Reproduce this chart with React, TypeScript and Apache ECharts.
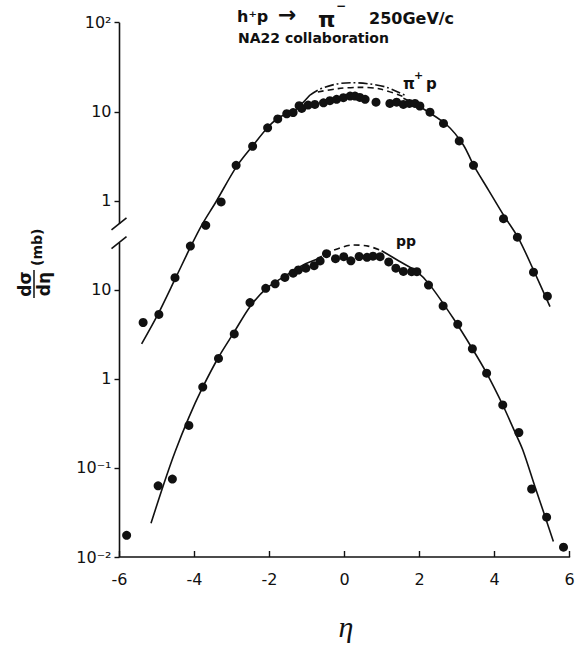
import React, { useEffect, useRef } from "react";
import * as echarts from "echarts";

// ---- axis ticks ----
const yTickValues = [-2, -1, 0, 1, 2, 3, 4];
const yTickLabels = ["10⁻²", "10⁻¹", "1", "10", "1", "10", "10²"];
// the pi+p panel is drawn two decades above the pp panel (broken y axis)
const UPPER_SHIFT = 2;
const BREAK_LOW = 1.53;
const BREAK_HIGH = 1.74;

// ---- pi+ p -> pi- data (mb) ----
const pipEta = [-5.37, -4.95, -4.52, -4.11, -3.7, -3.29, -2.89, -2.45, -2.05, -1.78, -1.54, -1.37, -1.21, -1.14, -0.97, -0.79, -0.56, -0.39, -0.21, -0.03, 0.15, 0.28, 0.41, 0.55, 0.84, 1.21, 1.39, 1.57, 1.73, 1.88, 2.01, 2.28, 2.64, 3.06, 3.44, 4.24, 4.61, 5.04, 5.41];
const pipVal = [0.043, 0.053, 0.137, 0.31, 0.53, 0.97, 2.5, 4.1, 6.6, 8.3, 9.5, 9.8, 11.7, 10.9, 11.9, 12.1, 12.6, 13.3, 13.8, 14.4, 15.0, 15.0, 14.5, 13.8, 12.8, 12.4, 12.8, 12.1, 12.4, 12.4, 11.6, 9.9, 7.4, 4.7, 2.5, 0.63, 0.39, 0.158, 0.085];

const pipFitLeftEta = [-5.41, -4.98, -4.5, -4.09, -3.81, -3.43, -2.88, -2.43, -2.03, -1.72, -1.37, -0.92];
const pipFitLeftVal = [0.0247, 0.0526, 0.137, 0.313, 0.531, 0.97, 2.42, 4.24, 6.79, 8.79, 10.0, 15.4];
const pipDashDotEta = [-0.92, -0.65, -0.21, 0.24, 0.68, 1.13, 1.66];
const pipDashDotVal = [15.4, 18.0, 20.5, 21.2, 20.5, 18.8, 15.0];
const pipDashEta = [-0.71, -0.17, 0.37, 0.95, 1.57];
const pipDashVal = [16.7, 18.2, 18.8, 18.0, 14.8];
const pipFitRightEta = [1.57, 2.01, 2.73, 3.17, 3.44, 3.84, 4.24, 4.64, 5.04, 5.48];
const pipFitRightVal = [14.2, 11.4, 7.1, 4.24, 2.52, 1.32, 0.693, 0.379, 0.167, 0.0647];

// ---- p p -> pi- data (mb) ----
const ppEta = [-5.81, -4.97, -4.59, -4.15, -3.78, -3.36, -2.94, -2.52, -2.1, -1.85, -1.59, -1.37, -1.23, -1.03, -0.81, -0.65, -0.48, -0.24, -0.02, 0.17, 0.39, 0.6, 0.76, 0.95, 1.18, 1.37, 1.57, 1.79, 1.93, 2.24, 2.63, 3.02, 3.41, 3.79, 4.22, 4.65, 4.99, 5.39, 5.84];
const ppVal = [0.0175, 0.063, 0.075, 0.3, 0.81, 1.7, 3.2, 7.2, 10.4, 11.7, 13.8, 15.4, 16.7, 17.5, 18.7, 21.1, 25.5, 22.4, 23.6, 21.2, 23.7, 23.2, 23.9, 23.6, 20.6, 17.5, 16.1, 16.0, 16.0, 11.3, 6.6, 4.1, 2.18, 1.16, 0.51, 0.25, 0.058, 0.028, 0.0129];

const ppFitLeftEta = [-5.16, -4.83, -4.52, -4.15, -3.8, -3.36, -2.94, -2.52, -2.08, -1.54, -1.1, -0.74];
const ppFitLeftVal = [0.0239, 0.064, 0.151, 0.37, 0.776, 1.75, 3.37, 6.47, 10.4, 14.7, 19.0, 22.0];
const ppDashEta = [-0.74, -0.39, 0.24, 0.63, 0.99];
const ppDashVal = [22.0, 26.8, 31.9, 31.0, 27.5];
const ppFitRightEta = [0.99, 1.45, 1.93, 2.28, 2.9, 3.41, 3.79, 4.22, 4.55, 4.755, 5.08, 5.35, 5.57];
const ppFitRightVal = [27.5, 21.1, 16.0, 11.3, 4.79, 2.18, 1.16, 0.509, 0.25, 0.159, 0.0615, 0.0284, 0.0149];

const INK = "#111";
const SANS = "DejaVu Sans";

const toPts = (eta: number[], val: number[], shift: number) =>
  eta.map((e, i) => [e, Math.log10(val[i]) + shift]);

const lineSeries = (data: number[][], type: any) => ({
  type: "line",
  data,
  showSymbol: false,
  symbol: "none",
  smooth: 0.3,
  silent: true,
  z: 2,
  lineStyle: { color: INK, width: 1.6, type },
});

const scatterSeries = (data: number[][]) => ({
  type: "scatter",
  data,
  symbol: "circle",
  symbolSize: 9,
  silent: true,
  z: 3,
  itemStyle: { color: INK, opacity: 1 },
});

export default function App() {
  const ref = useRef<HTMLDivElement>(null);

  useEffect(() => {
    if (!ref.current) return;
    const chart = echarts.init(ref.current, undefined, { renderer: "svg" });
    chart.setOption({
      animation: false,
      backgroundColor: "#fff",
      grid: { left: 119.5, right: 14.5, top: 22.7, bottom: 89, outerBoundsMode: "none" },
      xAxis: {
        type: "value",
        min: -6,
        max: 6,
        interval: 2,
        splitLine: { show: false },
        axisLine: { show: true, onZero: false, lineStyle: { color: INK, width: 1.6 } },
        axisTick: { show: true, inside: true, length: 6, lineStyle: { color: INK, width: 1.4 } },
        axisLabel: { color: INK, fontSize: 16, fontFamily: SANS, margin: 14 },
      },
      yAxis: {
        type: "value",
        min: -2,
        max: 4,
        interval: 1,
        splitLine: { show: false },
        axisLine: { show: false, onZero: false },
        axisTick: { show: true, inside: false, length: 5, lineStyle: { color: INK, width: 1.4 } },
        axisLabel: {
          color: INK,
          fontSize: 16,
          fontFamily: SANS,
          margin: 8,
          formatter: (v: number) => {
            const i = yTickValues.indexOf(Math.round(v));
            return i >= 0 ? yTickLabels[i] : "";
          },
        },
      },
      series: [
        lineSeries(toPts(pipFitLeftEta, pipFitLeftVal, UPPER_SHIFT), "solid"),
        lineSeries(toPts(pipDashDotEta, pipDashDotVal, UPPER_SHIFT), [9, 3, 2, 3]),
        lineSeries(toPts(pipDashEta, pipDashVal, UPPER_SHIFT), [6, 4]),
        lineSeries(toPts(pipFitRightEta, pipFitRightVal, UPPER_SHIFT), "solid"),
        lineSeries(toPts(ppFitLeftEta, ppFitLeftVal, 0), "solid"),
        lineSeries(toPts(ppDashEta, ppDashVal, 0), [6, 4]),
        lineSeries(toPts(ppFitRightEta, ppFitRightVal, 0), "solid"),
        scatterSeries(toPts(pipEta, pipVal, UPPER_SHIFT)),
        scatterSeries(toPts(ppEta, ppVal, 0)),
      ],
    });

    const px = (c: number) =>
      chart.convertToPixel({ xAxisIndex: 0, yAxisIndex: 0 }, [-6, c]) as number[];
    const pBottom = px(-2);
    const pLow = px(BREAK_LOW);
    const pHigh = px(BREAK_HIGH);
    const pTop = px(4);
    const axisStyle = { stroke: INK, lineWidth: 1.6 };
    const slash = (p: number[]) => ({
      type: "line",
      shape: { x1: p[0] - 8, y1: p[1] + 6, x2: p[0] + 7, y2: p[1] - 6 },
      style: { stroke: INK, lineWidth: 1.6 },
    });
    const txt = (text: string, x: number, y: number, font: string, align = "left", rotation = 0) => ({
      type: "text",
      x,
      y,
      rotation,
      style: { text, font, fill: INK, textAlign: align, textVerticalAlign: "middle" },
    });
    const R = Math.PI / 2;

    chart.setOption({
      graphic: [
        { type: "line", shape: { x1: pBottom[0], y1: pBottom[1], x2: pLow[0], y2: pLow[1] }, style: axisStyle },
        { type: "line", shape: { x1: pHigh[0], y1: pHigh[1], x2: pTop[0], y2: pTop[1] }, style: axisStyle },
        slash(pLow),
        slash(pHigh),
        // title
        txt("h⁺p", 237, 16, `bold 16px ${SANS}`),
        txt("→", 278, 14, `bold 22px ${SANS}`),
        txt("π", 318, 19, `bold 22px ${SANS}`),
        txt("−", 336, 6, `bold 12px ${SANS}`),
        txt("250GeV/c", 369, 18, `bold 16px ${SANS}`),
        txt("NA22 collaboration", 238, 38, `bold 14px ${SANS}`),
        // curve labels
        txt("π", 403, 84, `bold 15px ${SANS}`),
        txt("+", 414, 75, `bold 11px ${SANS}`),
        txt("p", 426, 84, `bold 15px ${SANS}`),
        txt("pp", 396, 241, `bold 14px ${SANS}`),
        // y axis title (rotated fraction dσ/dη (mb))
        txt("dσ", 25, 284, `bold 17px ${SANS}`, "center", R),
        { type: "line", shape: { x1: 34, y1: 270, x2: 34, y2: 298 }, style: { stroke: INK, lineWidth: 1.5 } },
        txt("dη", 44, 284, `bold 17px ${SANS}`, "center", R),
        txt("(mb)", 37, 266, `bold 14px ${SANS}`, "left", R),
        // x axis title
        txt("η", 346, 626, `italic 30px Liberation Serif`, "center"),
      ],
    });

    return () => chart.dispose();
  }, []);

  return (
    <div
      ref={ref}
      style={{ position: "absolute", left: 0, top: 0, width: 584, height: 646, background: "#fff" }}
    />
  );
}
